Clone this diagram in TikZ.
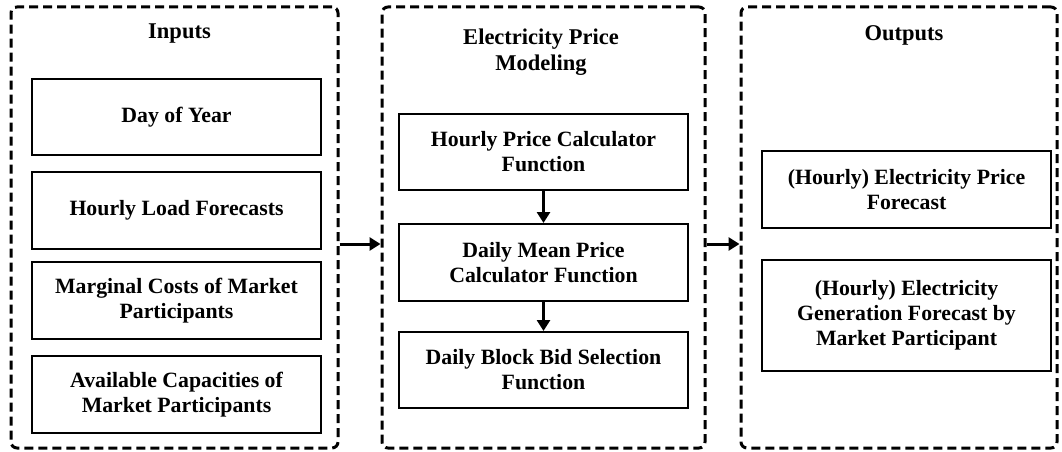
\documentclass[tikz,border=0pt]{standalone}
\usepackage{fontspec}
\setmainfont{Liberation Serif}
\usetikzlibrary{arrows.meta}

\begin{document}
\begin{tikzpicture}[x=1pt, y=-1pt,
    group/.style={draw, line width=3pt, dash pattern=on 9pt off 5pt, rounded corners=6pt, minimum width=#1, minimum height=441pt},
    block/.style={draw, line width=2pt, align=center, minimum width=289pt, minimum height=#1, font=\fontsize{21.8}{25}\selectfont\bfseries},
    block/.default=77pt,
    title/.style={align=center, font=\fontsize{22.5}{26}\selectfont\bfseries},
    flow/.style={-{Triangle[length=11pt,width=13pt]}, line width=3pt}]
    \useasboundingbox (0,0) rectangle (1062,452);

    % groups
    \node[group=327pt] (inputs) at (174.5,227.5) {};
    \node[group=323pt] (model) at (543.5,227.5) {};
    \node[group=316pt] (outputs) at (899,227.5) {};

    \node[title] (tin) at (179.5,34) {Inputs};
    \node[title] (tmod) at (541,52) {Electricity Price\\Modeling};
    \node[title] (tout) at (904,35) {Outputs};

    % inputs
    \node[block=76pt] (day) at (176.5,117) {Day of Year};
    \node[block] (load) at (176.5,210.5) {Hourly Load Forecasts};
    \node[block] (cost) at (176.5,300.5) {Marginal Costs of Market\\Participants};
    \node[block] (cap) at (176.5,394.5) {Available Capacities of\\Market Participants};

    % modeling
    \node[block=76pt] (hourly) at (543.5,152) {Hourly Price Calculator\\Function};
    \node[block] (mean) at (543.5,262.5) {Daily Mean Price\\Calculator Function};
    \node[block=76pt] (bid) at (543.5,370) {Daily Block Bid Selection\\Function};

    % outputs
    \node[block] (price) at (906.5,189.5) {(Hourly) Electricity Price\\Forecast};
    \node[block=111pt] (gen) at (906.5,315.5) {(Hourly) Electricity\\Generation Forecast by\\Market Participant};

    \draw[flow] (hourly) -- (mean);
    \draw[flow] (mean) -- (bid);
    \draw[flow] ([yshift=-16.5pt]inputs.east) -- ([yshift=-16.5pt]model.west);
    \draw[flow] ([yshift=-16.5pt]model.east) -- ([yshift=-16.5pt]outputs.west);
\end{tikzpicture}
\end{document}
